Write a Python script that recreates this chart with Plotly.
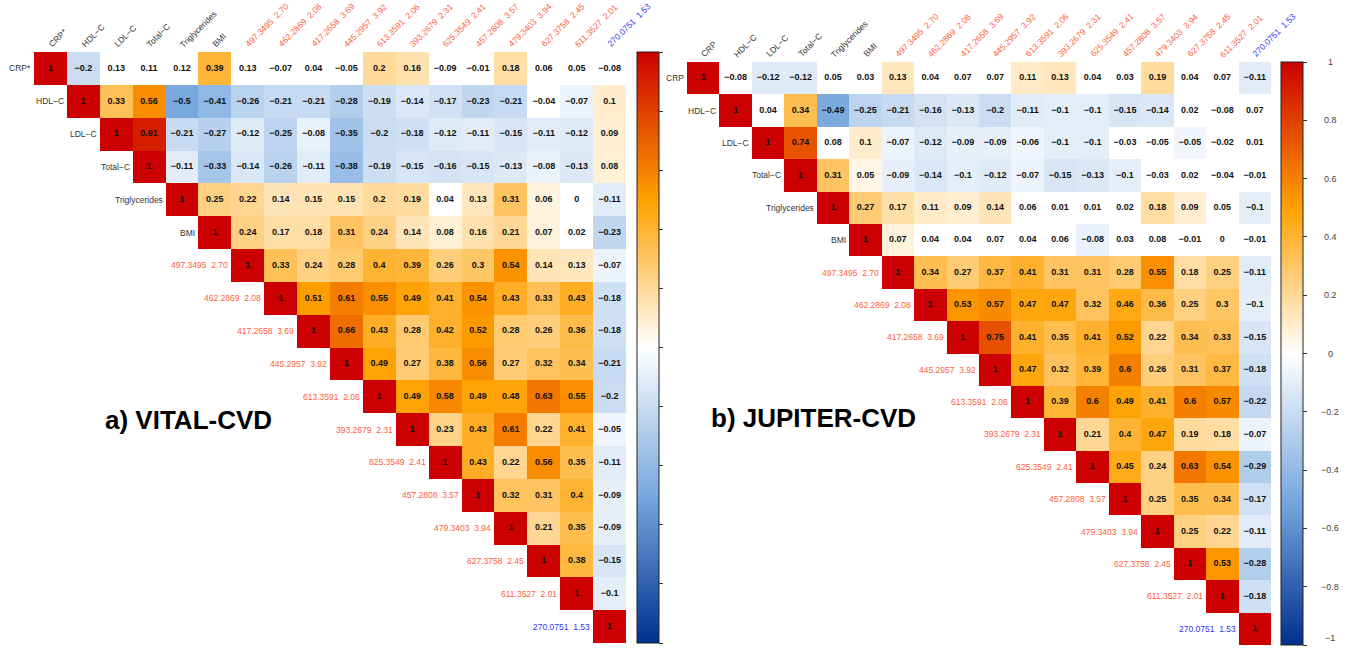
import plotly.graph_objects as go

# ---------------------------------------------------------------------------
# Variables (row / column order of both correlation matrices)
# ---------------------------------------------------------------------------
vital_labels = ["CRP*", "HDL\u2212C", "LDL\u2212C", "Total\u2212C", "Triglycerides", "BMI",
                "497.3495\u00a0\u00a02.70", "462.2869\u00a0\u00a02.08", "417.2658\u00a0\u00a03.69",
                "445.2957\u00a0\u00a03.92", "613.3591\u00a0\u00a02.06", "393.2679\u00a0\u00a02.31",
                "625.3549\u00a0\u00a02.41", "457.2808\u00a0\u00a03.57", "479.3403\u00a0\u00a03.94",
                "627.3758\u00a0\u00a02.45", "611.3527\u00a0\u00a02.01", "270.0751\u00a0\u00a01.53"]
jupiter_labels = ["CRP"] + vital_labels[1:]

# label group: clinical / metabolite up / metabolite down
label_kind = ["clin"] * 6 + ["up"] * 11 + ["down"]

# Upper triangle of each correlation matrix, row by row (starting at the diagonal)
vital_rows = [
    [1, -0.2, 0.13, 0.11, 0.12, 0.39, 0.13, -0.07, 0.04, -0.05, 0.2, 0.16, -0.09, -0.01, 0.18, 0.06, 0.05, -0.08],
    [1, 0.33, 0.56, -0.5, -0.41, -0.26, -0.21, -0.21, -0.28, -0.19, -0.14, -0.17, -0.23, -0.21, -0.04, -0.07, 0.1],
    [1, 0.91, -0.21, -0.27, -0.12, -0.25, -0.08, -0.35, -0.2, -0.18, -0.12, -0.11, -0.15, -0.11, -0.12, 0.09],
    [1, -0.11, -0.33, -0.14, -0.26, -0.11, -0.38, -0.19, -0.15, -0.16, -0.15, -0.13, -0.08, -0.13, 0.08],
    [1, 0.25, 0.22, 0.14, 0.15, 0.15, 0.2, 0.19, 0.04, 0.13, 0.31, 0.06, 0, -0.11],
    [1, 0.24, 0.17, 0.18, 0.31, 0.24, 0.14, 0.08, 0.16, 0.21, 0.07, 0.02, -0.23],
    [1, 0.33, 0.24, 0.28, 0.4, 0.39, 0.26, 0.3, 0.54, 0.14, 0.13, -0.07],
    [1, 0.51, 0.61, 0.55, 0.49, 0.41, 0.54, 0.43, 0.33, 0.43, -0.18],
    [1, 0.66, 0.43, 0.28, 0.42, 0.52, 0.28, 0.26, 0.36, -0.18],
    [1, 0.49, 0.27, 0.38, 0.56, 0.27, 0.32, 0.34, -0.21],
    [1, 0.49, 0.58, 0.49, 0.48, 0.63, 0.55, -0.2],
    [1, 0.23, 0.43, 0.61, 0.22, 0.41, -0.05],
    [1, 0.43, 0.22, 0.56, 0.35, -0.11],
    [1, 0.32, 0.31, 0.4, -0.09],
    [1, 0.21, 0.35, -0.09],
    [1, 0.38, -0.15],
    [1, -0.1],
    [1],
]

jupiter_rows = [
    [1, -0.08, -0.12, -0.12, 0.05, 0.03, 0.13, 0.04, 0.07, 0.07, 0.11, 0.13, 0.04, 0.03, 0.19, 0.04, 0.07, -0.11],
    [1, 0.04, 0.34, -0.49, -0.25, -0.21, -0.16, -0.13, -0.2, -0.11, -0.1, -0.1, -0.15, -0.14, 0.02, -0.08, 0.07],
    [1, 0.74, 0.08, 0.1, -0.07, -0.12, -0.09, -0.09, -0.06, -0.1, -0.1, -0.03, -0.05, -0.05, -0.02, 0.01],
    [1, 0.31, 0.05, -0.09, -0.14, -0.1, -0.12, -0.07, -0.15, -0.13, -0.1, -0.03, 0.02, -0.04, -0.01],
    [1, 0.27, 0.17, 0.11, 0.09, 0.14, 0.06, 0.01, 0.01, 0.02, 0.18, 0.09, 0.05, -0.1],
    [1, 0.07, 0.04, 0.04, 0.07, 0.04, 0.06, -0.08, 0.03, 0.08, -0.01, 0, -0.01],
    [1, 0.34, 0.27, 0.37, 0.41, 0.31, 0.31, 0.28, 0.55, 0.18, 0.25, -0.11],
    [1, 0.53, 0.57, 0.47, 0.47, 0.32, 0.46, 0.36, 0.25, 0.3, -0.1],
    [1, 0.75, 0.41, 0.35, 0.41, 0.52, 0.22, 0.34, 0.33, -0.15],
    [1, 0.47, 0.32, 0.39, 0.6, 0.26, 0.31, 0.37, -0.18],
    [1, 0.39, 0.6, 0.49, 0.41, 0.6, 0.57, -0.22],
    [1, 0.21, 0.4, 0.47, 0.19, 0.18, -0.07],
    [1, 0.45, 0.24, 0.63, 0.54, -0.29],
    [1, 0.25, 0.35, 0.34, -0.17],
    [1, 0.25, 0.22, -0.11],
    [1, 0.53, -0.28],
    [1, -0.18],
    [1],
]

# Non-significant pairs (row, column): cells left blank
vital_ns = [(0, 2), (0, 3), (0, 4), (0, 6), (0, 7), (0, 8), (0, 9), (0, 12), (0, 13),
            (0, 15), (0, 16), (0, 17), (1, 15), (4, 12), (4, 16), (5, 16)]
jupiter_ns = [(0, 1), (0, 4), (0, 5), (0, 7), (0, 8), (0, 9), (0, 12), (0, 13), (0, 15), (0, 16),
              (1, 2), (1, 15), (1, 16), (1, 17),
              (2, 4), (2, 13), (2, 14), (2, 16), (2, 17),
              (3, 14), (3, 15), (3, 16), (3, 17),
              (4, 10), (4, 11), (4, 12), (4, 13), (4, 16),
              (5, 7), (5, 8), (5, 9), (5, 10), (5, 11), (5, 13), (5, 14), (5, 15), (5, 16), (5, 17)]

colorbar_ticks = [1, 0.8, 0.6, 0.4, 0.2, 0, -0.2, -0.4, -0.6, -0.8, -1]

# ---------------------------------------------------------------------------
# Styling
# ---------------------------------------------------------------------------
W, H = 1346, 648
FONT = "Liberation Sans, Arial, Helvetica, sans-serif"
CORR_SCALE = [[0.0, "#00308F"], [0.25, "#78A8DE"], [0.5, "#FFFFFF"],
              [0.75, "#FFA000"], [1.0, "#CC0000"]]
KIND_COLOR = {"clin": "#333333", "up": "#FF5E3A", "down": "#3434F0"}

# panel boxes in pixels: (left, right, top, bottom)
PANELS = {
    "vital": dict(box=(34, 626, 52, 643), cbar_x=637, title="a) VITAL-CVD", title_xy=(188, 420)),
    "jupiter": dict(box=(687, 1271, 62, 645), cbar_x=1281, title="b) JUPITER-CVD", title_xy=(813, 418)),
}


def px_x(x):
    return x / W


def px_y(y):
    return 1 - y / H


def fmt(v):
    s = f"{v:g}"
    return s.replace("-", "\u2212")


fig = go.Figure()
annotations = []
n = len(vital_labels)


def add_panel(key, labels, rows, ns, axis_idx, show_labels):
    p = PANELS[key]
    left, right, top, bottom = p["box"]
    xa = "x" if axis_idx == 1 else f"x{axis_idx}"
    ya = "y" if axis_idx == 1 else f"y{axis_idx}"

    z = [[None] * n for _ in range(n)]
    for i, r in enumerate(rows):
        for k, v in enumerate(r):
            z[i][i + k] = v

    cbar = dict(
        x=px_x(p["cbar_x"]), xanchor="left", xref="paper", xpad=0,
        y=px_y(top), yanchor="top", ypad=0,
        lenmode="pixels", len=bottom - top, thickness=22,
        outlinecolor="#222222", outlinewidth=1,
        tickvals=colorbar_ticks, ticks="outside", ticklen=4, tickcolor="#333333",
        showticklabels=False,
    )
    fig.add_trace(go.Heatmap(
        z=z, x=list(range(n)), y=list(range(n)), zmin=-1, zmax=1,
        colorscale=CORR_SCALE, colorbar=cbar, xaxis=xa, yaxis=ya,
        hoverongaps=False,
    ))

    mask = [[None] * n for _ in range(n)]
    for i, j in ns:
        mask[i][j] = 1
    fig.add_trace(go.Heatmap(
        z=mask, x=list(range(n)), y=list(range(n)),
        colorscale=[[0, "#FFFFFF"], [1, "#FFFFFF"]], showscale=False,
        xaxis=xa, yaxis=ya, hoverinfo="skip",
    ))

    xs, ys, ts = [], [], []
    for i, r in enumerate(rows):
        for k, v in enumerate(r):
            xs.append(i + k)
            ys.append(i)
            ts.append(fmt(v))
    fig.add_trace(go.Scatter(
        x=xs, y=ys, text=ts, mode="text", xaxis=xa, yaxis=ya,
        textfont=dict(family=FONT, size=9, color="#111111", weight="bold"),
        hoverinfo="skip", showlegend=False,
    ))

    fig.update_layout(**{
        ("xaxis" if axis_idx == 1 else f"xaxis{axis_idx}"): dict(
            domain=[px_x(left), px_x(right)], range=[-0.5, n - 0.5],
            visible=False, anchor=ya, fixedrange=True),
        ("yaxis" if axis_idx == 1 else f"yaxis{axis_idx}"): dict(
            domain=[px_y(bottom), px_y(top)], range=[n - 0.5, -0.5],
            visible=False, anchor=xa, fixedrange=True),
    })

    for j, lab in enumerate(labels):
        col = KIND_COLOR[label_kind[j]]
        # column headers, rotated along the top edge
        annotations.append(dict(
            x=j, y=-0.5, xref=xa, yref=ya, text=lab, showarrow=False,
            textangle=-45, xanchor="left", yanchor="bottom", xshift=-7, yshift=0,
            font=dict(family=FONT, size=8.5, color=col),
        ))
        # row headers, next to the diagonal
        annotations.append(dict(
            x=j - 0.5, y=j, xref=xa, yref=ya, text=lab, showarrow=False,
            xanchor="right", yanchor="middle", xshift=-1,
            font=dict(family=FONT, size=8.5, color=col),
        ))

    tx, ty = p["title_xy"]
    annotations.append(dict(
        x=px_x(tx), y=px_y(ty), xref="paper", yref="paper", text=f"<b>{p['title']}</b>",
        showarrow=False, xanchor="center", yanchor="middle",
        font=dict(family=FONT, size=26, color="#000000"),
    ))

    if show_labels:
        y0, y1 = px_y(bottom), px_y(top)
        for v in colorbar_ticks:
            # keep the lowest label inside the page
            anchor = "bottom" if v == -1 else "middle"
            annotations.append(dict(
                x=px_x(1330), y=y0 + (v + 1) / 2 * (y1 - y0), xref="paper", yref="paper",
                text=fmt(v), showarrow=False, xanchor="center", yanchor=anchor,
                font=dict(family=FONT, size=9, color="#444444"),
            ))


add_panel("vital", vital_labels, vital_rows, vital_ns, 1, False)
add_panel("jupiter", jupiter_labels, jupiter_rows, jupiter_ns, 2, True)

fig.update_layout(
    width=W, height=H, margin=dict(l=0, r=0, t=0, b=0),
    paper_bgcolor="#FFFFFF", plot_bgcolor="rgba(0,0,0,0)",
    showlegend=False, annotations=annotations,
    font=dict(family=FONT),
)

fig.write_html("out.html")
